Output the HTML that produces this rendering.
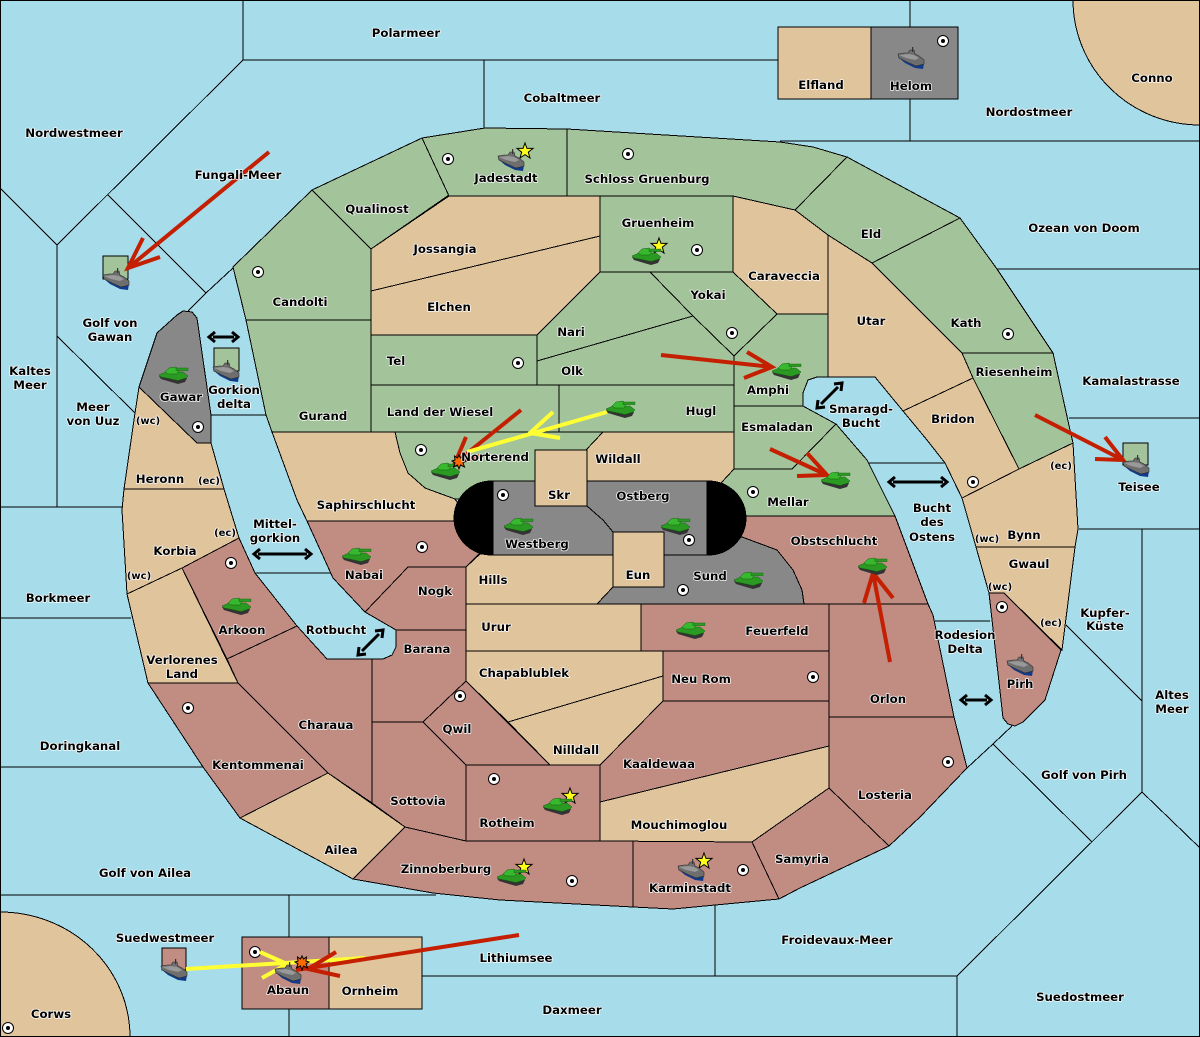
<!DOCTYPE html>
<html><head><meta charset="utf-8"><style>
html,body{margin:0;padding:0;background:#a7dcea;width:1200px;height:1037px;overflow:hidden}
svg{display:block}
.L polygon,.L polyline,.L path,.L rect{stroke:#000;stroke-width:1;shape-rendering:crispEdges}
.g{fill:#a3c39a}.t{fill:#e0c49c}.r{fill:#c18c82}.a{fill:#888}
text{font-family:"DejaVu Sans","Liberation Sans",sans-serif;font-weight:bold;font-size:11.75px;text-anchor:middle;fill:#000;stroke:#fff;stroke-width:1.6px;stroke-opacity:.9;paint-order:stroke;stroke-linejoin:round}
text.s{font-size:10px}
.red{stroke:#c41f00;stroke-width:4;fill:none}
.yel{stroke:#ffff33;stroke-width:4;fill:none}
.dbl{stroke:#000;stroke-width:3;fill:none}
</style></head><body>
<svg xmlns="http://www.w3.org/2000/svg" width="1200" height="1037" viewBox="0 0 1200 1037">
<defs>
<g id="sc"><circle r="5.5" fill="#fff" stroke="#000" stroke-width="1"/><circle r="2" fill="#000"/></g>
<g id="tank">
<polygon points="-14,1 14,3 12,7 5,9 -2,7 -12,4" fill="#333"/>
<polygon points="-14,0 -7,-3 10,-3 15,1 13,3 5,5.5 -4,3.5 -12,2" fill="#2a9a22" stroke="#14600f" stroke-width=".5"/>
<polygon points="-8,-3 -4,-7 3,-8 6,-5 4,-1 -5,-1" fill="#38b82e" stroke="#14600f" stroke-width=".5"/>
<rect x="3" y="-7" width="12" height="2.6" fill="#2a9a22" stroke="#14600f" stroke-width=".4"/>
</g>
<g id="ship">
<polygon points="-13,-1 -6,5 4,10 12,11 13,5" fill="#123a8c"/>
<polygon points="-13,-4 -7,-5 -3,-5 -1,-8 3,-8 4,-4 8,-2 13,2 13,6 5,8 -4,4 -12,0" fill="#6e6e6e" stroke="#2c2c2c" stroke-width=".6"/>
<polygon points="-12,-3 -3,-4 3,-3 8,0 4,2 -5,0" fill="#999"/>
<rect x="1" y="-11" width="1.2" height="5" fill="#333"/>
</g>
<polygon id="star" points="0,-8 2,-2.6 8,-2.6 3.3,1.2 5,7 0,3.6 -5,7 -3.3,1.2 -8,-2.6 -2,-2.6" fill="#ffff1a" stroke="#000" stroke-width="1"/>
<polygon id="boom" points="0,-7 1.5,-4 4.5,-6 4,-2 7,-1 4,1 5.5,5 1.5,3 0,7 -1.5,3 -5.5,5 -4,1 -7,-1 -4,-2 -4.5,-6 -1.5,-4" fill="#ff6a00" stroke="#000" stroke-width="1"/>
</defs>
<rect width="1200" height="1037" fill="#a7dcea"/>
<g class="L" fill="none">
<path d="M1073,0A127,125 0 0 0 1200,125V0Z" fill="#e0c49c"/>
<path d="M0,912A130,125 0 0 1 130,1037H0Z" fill="#e0c49c"/>
<path d="M243,0V60L57,245L0,188M243,60H778M484,60V128M910,0V27M910,99V141M780,141H1200M997,269H1200M1069,418H1200M1079,529H1200M1142,529V792L1200,848M1142,792L957,976V1037M1142,701L1066,625M1092,842L993,744L1012,726M993,744L967,768M957,976H715V905M57,245V507M0,507H122M108,195L206,293L188,311M206,293L233,268M57,336L135,413M0,618H131M0,767H203M0,895H436M289,895V937M289,1009V1037M421,976H715M211,415H266M869,463H946M935,621H990M255,573H333" fill="none"/>
<rect x="0.5" y="0.5" width="1199" height="1036"/>
</g>
<g class="L">
<polygon class="g" points="233,267 312,190 371,249 371,320 246,320"/>
<polygon class="g" points="312,190 422,138 449,195 371,249"/>
<polygon class="g" points="422,138 485,128 567,129 567,196 449,196"/>
<polygon class="g" points="567,129 780,142 813,147 847,157 795,210 733,196 567,196"/>
<polygon class="g" points="847,157 960,218 872,263 828,235 795,210"/>
<polygon class="g" points="960,218 997,269 1053,353 962,353 917,308 872,263"/>
<polygon class="g" points="962,353 1053,353 1070,430 1073,443 1019,469 973,378"/>
<polygon class="t" points="828,235 872,263 917,308 962,353 973,378 903,411 875,377 828,377"/>
<polygon class="t" points="973,378 1019,469 962,498 945,463 927,440 903,411"/>
<polygon class="t" points="1073,443 1078,529 1075,547 976,547 962,498 1019,469"/>
<polygon class="t" points="976,547 1075,547 1062,650 1004,593 989,593"/>
<polygon class="r" points="989,593 1004,593 1061,650 1045,700 1023,722 1015,726 1008,724 1003,718"/>
<polygon class="t" points="733,196 795,210 828,235 828,314 777,314 733,272"/>
<polygon class="g" points="600,196 733,196 733,272 600,272"/>
<polygon class="t" points="449,196 600,196 600,236 371,291 371,249"/>
<polygon class="t" points="371,291 600,236 600,272 537,335 371,335"/>
<polygon class="g" points="600,272 650,272 693,316 537,361 537,335"/>
<polygon class="g" points="650,272 733,272 777,314 734,356 693,316"/>
<polygon class="g" points="537,361 693,316 734,356 734,385 537,385"/>
<polygon class="g" points="371,335 537,335 537,385 371,385"/>
<polygon class="g" points="371,385 559,385 559,432 371,432"/>
<polygon class="g" points="559,385 734,385 734,432 559,432"/>
<polygon class="g" points="246,320 371,320 371,432 272,432 266,415"/>
<polygon class="g" points="777,314 828,314 828,377 817,377 808,380 803,393 803,406 734,406 734,356"/>
<polygon class="g" points="734,406 803,406 836,424 792,469 734,469"/>
<polygon class="g" points="734,469 792,469 836,424 867,460 895,516 740,516 721,483"/>
<polygon class="t" points="603,432 734,432 734,469 721,483 586,483 586,450"/>
<polygon class="g" points="395,432 603,432 586,450 535,450 535,490 470,500 455,499 425,488 408,473 400,453"/>
<polygon class="t" points="272,432 395,432 400,453 408,473 425,488 455,499 470,521 307,521 297,500"/>
<polygon class="r" points="307,521 470,521 480,553 466,567 408,567 365,612 333,578"/>
<polygon class="r" points="408,567 466,567 466,630 396,630 365,612"/>
<polygon class="t" points="466,567 480,554 613,555 613,587 597,604 466,604"/>
<polygon class="t" points="466,604 641,604 641,651 466,651"/>
<polygon class="r" points="641,604 829,604 829,651 641,651"/>
<polygon class="r" points="663,651 829,651 829,701 663,701"/>
<polygon class="t" points="466,651 663,651 663,676 508,722 466,681"/>
<polygon class="t" points="508,722 663,676 663,701 600,765 550,765"/>
<polygon class="r" points="396,630 466,630 466,681 423,722 372,722 372,659 383,659 392,655 396,647"/>
<polygon class="r" points="423,722 466,681 508,723 550,765 466,765"/>
<polygon class="r" points="466,765 600,765 600,841 466,841"/>
<polygon class="r" points="372,722 423,722 466,765 466,841 405,827 372,803"/>
<polygon class="r" points="227,659 297,626 327,659 372,659 372,803 328,773 283,728 238,683"/>
<polygon class="r" points="239,538 255,573 297,626 227,659 182,568"/>
<polygon class="t" points="124,489 224,489 239,538 182,568 127,594 122,510"/>
<polygon class="t" points="139,387 197,443 211,443 224,489 124,489 135,413"/>
<polygon class="a" points="139,387 157,333 177,315 183,311 192,312 197,318 211,415 211,443 197,443"/>
<polygon class="t" points="182,568 238,683 148,683 127,594"/>
<polygon class="r" points="148,683 238,683 328,773 240,818 203,767"/>
<polygon class="t" points="240,818 328,773 405,827 353,879"/>
<polygon class="r" points="353,879 405,827 466,841 633,841 633,907 500,900 433,893"/>
<polygon class="r" points="633,841 752,842 779,899 673,909 633,907"/>
<polygon class="r" points="752,842 829,788 889,846 800,888 779,899"/>
<polygon class="t" points="600,802 829,746 829,788 752,842 600,841"/>
<polygon class="r" points="600,765 663,701 829,701 829,746 600,802"/>
<polygon class="r" points="829,604 928,604 933,615 954,717 829,717"/>
<polygon class="r" points="829,717 954,717 967,768 920,817 889,846 829,788"/>
<polygon class="r" points="740,516 895,516 928,604 804,604 802,590 793,570 777,550 742,537 720,555"/>
<polygon class="a" points="664,555 742,537 777,550 793,570 802,590 804,604 597,604 613,587 664,587"/>
<rect x="454" y="481" width="292" height="74" rx="38" ry="37" fill="#000"/>
<polygon class="a" points="493,481 707,481 707,555 493,555"/>
<polyline points="587,506 603,520 613,532" fill="none"/>
<polygon class="t" points="535,450 587,450 587,506 535,506"/>
<polygon class="t" points="613,532 664,532 664,587 613,587"/>
<polygon class="t" points="778,27 871,27 871,99 778,99"/>
<polygon class="a" points="871,27 958,27 958,99 871,99"/>
<polygon class="r" points="242,937 329,937 329,1009 242,1009"/>
<polygon class="t" points="329,937 422,937 422,1009 329,1009"/>
<polygon class="g" points="103,256 128,256 128,279 103,279"/>
<polygon class="g" points="214,348 239,348 239,371 214,371"/>
<polygon class="g" points="1123,443 1148,443 1148,465 1123,465"/>
<polygon class="r" points="162,948 186,948 186,970 162,970"/>
</g>
<g>
<use href="#sc" x="448" y="159"/><use href="#sc" x="628" y="154"/><use href="#sc" x="258" y="272"/><use href="#sc" x="697" y="250"/><use href="#sc" x="732" y="333"/><use href="#sc" x="1008" y="334"/><use href="#sc" x="518" y="363"/><use href="#sc" x="421" y="450"/><use href="#sc" x="753" y="492"/><use href="#sc" x="503" y="495"/><use href="#sc" x="689" y="540"/><use href="#sc" x="973" y="482"/><use href="#sc" x="198" y="427"/><use href="#sc" x="422" y="547"/><use href="#sc" x="231" y="563"/><use href="#sc" x="683" y="590"/><use href="#sc" x="1002" y="607"/><use href="#sc" x="813" y="677"/><use href="#sc" x="188" y="708"/><use href="#sc" x="460" y="696"/><use href="#sc" x="494" y="779"/><use href="#sc" x="948" y="762"/><use href="#sc" x="743" y="870"/><use href="#sc" x="572" y="881"/><use href="#sc" x="255" y="952"/><use href="#sc" x="943" y="41"/><use href="#sc" x="8" y="1028"/>
</g>
<g class="red">
<path d="M269,152L128,268M143,238L128,268L160,257"/>
<path d="M661,355L772,367M747,352L772,367L744,378"/>
<path d="M1035,415L1123,460M1105,437L1123,460L1095,459"/>
<path d="M770,449L827,475M807,453L827,475L797,476"/>
<path d="M890,662L873,573M864,603L873,573L893,598"/>
<path d="M521,410L455,463M466,437L455,463L480,456"/>
</g>
<g class="yel">
<path d="M607,412L467,452M553,412L530,433L560,438"/>
<path d="M186,969L365,958M260,952L287,964L262,978"/>
</g>
<g>
<use href="#star" x="525" y="151"/><use href="#star" x="659" y="246"/><use href="#star" x="570" y="796"/><use href="#star" x="524" y="867"/><use href="#star" x="704" y="861"/>
<use href="#tank" x="173" y="375"/><use href="#tank" x="646" y="256"/><use href="#tank" x="620" y="409"/><use href="#tank" x="445" y="471"/><use href="#tank" x="786" y="371"/><use href="#tank" x="835" y="480"/><use href="#tank" x="356" y="556"/><use href="#tank" x="236" y="606"/><use href="#tank" x="518" y="526"/><use href="#tank" x="675" y="526"/><use href="#tank" x="748" y="580"/><use href="#tank" x="690" y="630"/><use href="#tank" x="557" y="806"/><use href="#tank" x="511" y="877"/><use href="#tank" x="872" y="566"/>
<use href="#ship" x="116" y="279"/><use href="#ship" x="226" y="371"/><use href="#ship" x="1136" y="466"/><use href="#ship" x="174" y="970"/><use href="#ship" x="511" y="160"/><use href="#ship" x="1020" y="665"/><use href="#ship" x="691" y="870"/><use href="#ship" x="911" y="58"/><use href="#ship" x="288" y="973"/>
</g>
<path class="red" d="M519,935L296,970M336,952L308,969L340,976"/>
<use href="#boom" x="459" y="462"/><use href="#boom" x="302" y="963"/>
<g class="dbl">
<path d="M213,337H234M215,332L209,337L215,342M232,332L238,337L232,342"/>
<path d="M258,554H307M260,549L254,554L260,559M305,549L311,554L305,559"/>
<path d="M362,651L379,634M359,647L358,655L366,654M375,631L383,630L382,638"/>
<path d="M821,404L838,387M818,400L817,408L825,407M834,384L842,383L841,391"/>
<path d="M893,482H943M895,477L889,482L895,487M941,477L947,482L941,487"/>
<path d="M965,700H987M967,695L961,700L967,705M985,695L991,700L985,705"/>
</g>
<g transform="translate(0,5)">
<text x="406" y="32">Polarmeer</text><text x="562" y="97">Cobaltmeer</text><text x="821" y="84">Elfland</text><text x="911" y="85">Helom</text><text x="1152" y="77">Conno</text><text x="1029" y="111">Nordostmeer</text><text x="74" y="132">Nordwestmeer</text><text x="238" y="174">Fungali-Meer</text><text x="506" y="177">Jadestadt</text><text x="647" y="178">Schloss Gruenburg</text><text x="377" y="208">Qualinost</text><text x="658" y="222">Gruenheim</text><text x="871" y="233">Eld</text><text x="1084" y="227">Ozean von Doom</text><text x="445" y="248">Jossangia</text><text x="784" y="275">Caraveccia</text><text x="708" y="294">Yokai</text><text x="300" y="301">Candolti</text><text x="449" y="306">Elchen</text><text x="871" y="320">Utar</text><text x="966" y="322">Kath</text><text x="571" y="331">Nari</text><text x="110" y="322">Golf von</text><text x="110" y="336">Gawan</text><text x="396" y="360">Tel</text><text x="572" y="370">Olk</text><text x="1014" y="371">Riesenheim</text><text x="30" y="370">Kaltes</text><text x="30" y="384">Meer</text><text x="1131" y="380">Kamalastrasse</text><text x="768" y="389">Amphi</text><text x="181" y="396">Gawar</text><text x="234" y="389">Gorkion</text><text x="234" y="403">delta</text><text x="93" y="406">Meer</text><text x="93" y="420">von Uuz</text><text x="861" y="408">Smaragd-</text><text x="861" y="422">Bucht</text><text x="440" y="411">Land der Wiesel</text><text x="701" y="410">Hugl</text><text x="323" y="415">Gurand</text><text class="s" x="148" y="419">(wc)</text><text x="953" y="418">Bridon</text><text x="777" y="426">Esmaladan</text><text x="495" y="456">Norterend</text><text x="618" y="458">Wildall</text><text x="1139" y="486">Teisee</text><text class="s" x="1061" y="464">(ec)</text><text x="160" y="478">Heronn</text><text class="s" x="209" y="479">(ec)</text><text x="643" y="495">Ostberg</text><text x="559" y="494">Skr</text><text x="788" y="501">Mellar</text><text x="366" y="504">Saphirschlucht</text><text x="932" y="507">Bucht</text><text x="932" y="521">des</text><text x="932" y="536">Ostens</text><text x="275" y="523">Mittel-</text><text x="275" y="537">gorkion</text><text class="s" x="225" y="531">(ec)</text><text x="1024" y="534">Bynn</text><text class="s" x="987" y="537">(wc)</text><text x="834" y="540">Obstschlucht</text><text x="537" y="543">Westberg</text><text x="175" y="550">Korbia</text><text x="1029" y="563">Gwaul</text><text class="s" x="1000" y="585">(wc)</text><text x="364" y="574">Nabai</text><text x="638" y="574">Eun</text><text x="710" y="575">Sund</text><text x="493" y="579">Hills</text><text class="s" x="139" y="574">(wc)</text><text x="435" y="590">Nogk</text><text x="58" y="597">Borkmeer</text><text x="1105" y="612">Kupfer-</text><text x="1105" y="625">Küste</text><text x="496" y="626">Urur</text><text x="777" y="630">Feuerfeld</text><text x="242" y="629">Arkoon</text><text x="336" y="629">Rotbucht</text><text class="s" x="1051" y="621">(ec)</text><text x="965" y="634">Rodesion</text><text x="965" y="648">Delta</text><text x="427" y="648">Barana</text><text x="182" y="659">Verlorenes</text><text x="182" y="673">Land</text><text x="524" y="672">Chapablublek</text><text x="701" y="678">Neu Rom</text><text x="1020" y="683">Pirh</text><text x="1172" y="694">Altes</text><text x="1172" y="708">Meer</text><text x="888" y="698">Orlon</text><text x="326" y="724">Charaua</text><text x="457" y="728">Qwil</text><text x="80" y="745">Doringkanal</text><text x="576" y="749">Nilldall</text><text x="659" y="763">Kaaldewaa</text><text x="258" y="764">Kentommenai</text><text x="1084" y="774">Golf von Pirh</text><text x="885" y="794">Losteria</text><text x="418" y="800">Sottovia</text><text x="507" y="822">Rotheim</text><text x="679" y="824">Mouchimoglou</text><text x="341" y="849">Ailea</text><text x="802" y="858">Samyria</text><text x="446" y="868">Zinnoberburg</text><text x="145" y="872">Golf von Ailea</text><text x="690" y="887">Karminstadt</text><text x="165" y="937">Suedwestmeer</text><text x="837" y="939">Froidevaux-Meer</text><text x="516" y="957">Lithiumsee</text><text x="288" y="989">Abaun</text><text x="370" y="990">Ornheim</text><text x="1080" y="996">Suedostmeer</text><text x="572" y="1009">Daxmeer</text><text x="51" y="1013">Corws</text>
</g>
</svg>
</body></html>
